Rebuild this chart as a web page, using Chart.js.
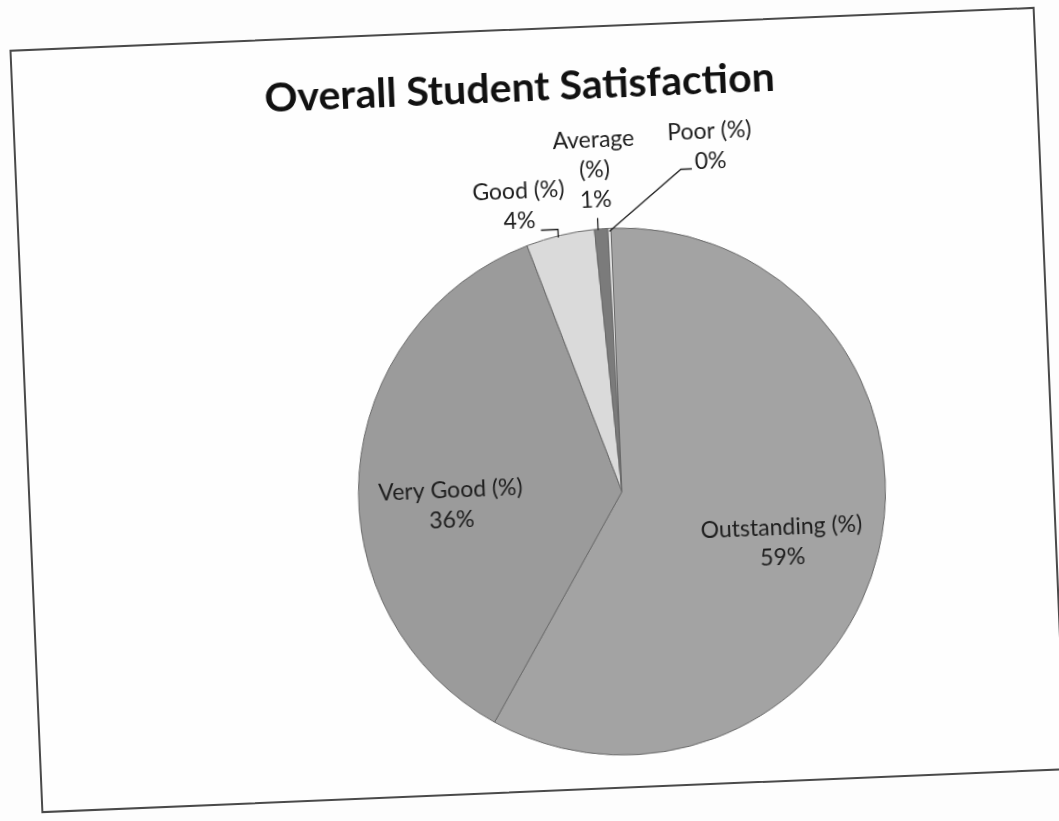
<!DOCTYPE html>
<html>
<head>
<meta charset="utf-8">
<script src="https://cdn.jsdelivr.net/npm/chart.js@4.4.0/dist/chart.umd.min.js"></script>
<style>
  body { margin: 0; background: #fdfdfd; }
  #frame {
    position: absolute; left: 25px; top: 28px;
    width: 1026px; height: 764px; box-sizing: border-box;
    border: 2px solid #4a4a4a; background: #fefefe;
    transform: rotate(-2.4deg);
  }
  canvas { display: block; }
</style>
</head>
<body>
<div id="frame"><canvas id="pie-chart" width="1022" height="760"></canvas></div>
<script>
// values (%), labels show them rounded
var categories = ["Outstanding (%)", "Very Good (%)", "Good (%)", "Average (%)", "Poor (%)"];
var satisfaction = [58.7, 36.1, 4.2, 0.8, 0.2];
var chartTitle = "Overall Student Satisfaction";

var sliceColors = ["#a3a3a3", "#9b9b9b", "#dadada", "#7b7b7b", "#e2e2e2"];

// where each data label sits, relative to its slice
var labelLayout = [
  { frac: 0.63, text: [-2, -2] },
  { frac: 0.65, text: [-1, 10] },
  { frac: 1, text: [-40, -46], leader: [[-19, -6], [-2, -6], [-2, 2]] },
  { frac: 1, text: [-4, -89], wrap: true, leader: [[-3, -11], [-3, 1]] },
  { frac: 1, text: [104, -93], leader: [[85, -56], [74, -56], [0, 3]] },
];

var sliceLabels = {
  id: "sliceLabels",
  afterDatasetsDraw: function (chart, args, opts) {
    var ctx = chart.ctx;
    var meta = chart.getDatasetMeta(0);
    var values = chart.data.datasets[0].data;
    ctx.save();
    ctx.font = opts.font;
    ctx.fillStyle = opts.color;
    ctx.strokeStyle = opts.color;
    ctx.lineWidth = 1.3;
    ctx.textAlign = "center";
    ctx.textBaseline = "middle";
    meta.data.forEach(function (arc, i) {
      var p = arc.getProps(["x", "y", "startAngle", "endAngle", "outerRadius"], true);
      var mid = (p.startAngle + p.endAngle) / 2;
      var cfg = labelLayout[i];
      var ax = p.x + Math.cos(mid) * p.outerRadius * cfg.frac;
      var ay = p.y + Math.sin(mid) * p.outerRadius * cfg.frac;
      var name = chart.data.labels[i];
      var lines = (cfg.wrap ? name.split(" ") : [name]).concat(Math.round(values[i]) + "%");
      lines.forEach(function (t, k) {
        ctx.fillText(t, ax + cfg.text[0], ay + cfg.text[1] + k * opts.lineHeight);
      });
      if (cfg.leader) {
        ctx.beginPath();
        cfg.leader.forEach(function (pt, k) {
          if (k === 0) ctx.moveTo(ax + pt[0], ay + pt[1]);
          else ctx.lineTo(ax + pt[0], ay + pt[1]);
        });
        ctx.stroke();
      }
    });
    // chart title
    ctx.font = opts.titleFont;
    ctx.fillStyle = "#111";
    ctx.fillText(chartTitle, opts.titleX, opts.titleY);
    ctx.restore();
  },
};

var ctx = document.getElementById("pie-chart").getContext("2d");
var myPieChart = new Chart(ctx, {
  type: "pie",
  data: {
    labels: categories,
    datasets: [
      {
        data: satisfaction,
        backgroundColor: sliceColors,
        borderColor: "#6a6a6a",
        borderWidth: 1,
      },
    ],
  },
  options: {
    responsive: false,
    animation: false,
    devicePixelRatio: 1,
    layout: { padding: { left: 161, right: 0, top: 201, bottom: 31 } },
    plugins: {
      legend: { display: false },
      tooltip: { enabled: false },
      title: { display: false },
      sliceLabels: {
        font: "23px Lato",
        color: "#1e1e1e",
        lineHeight: 30,
        titleFont: "bold 41px Lato",
        titleX: 506,
        titleY: 58,
      },
    },
  },
  plugins: [sliceLabels],
});
</script>
</body>
</html>
